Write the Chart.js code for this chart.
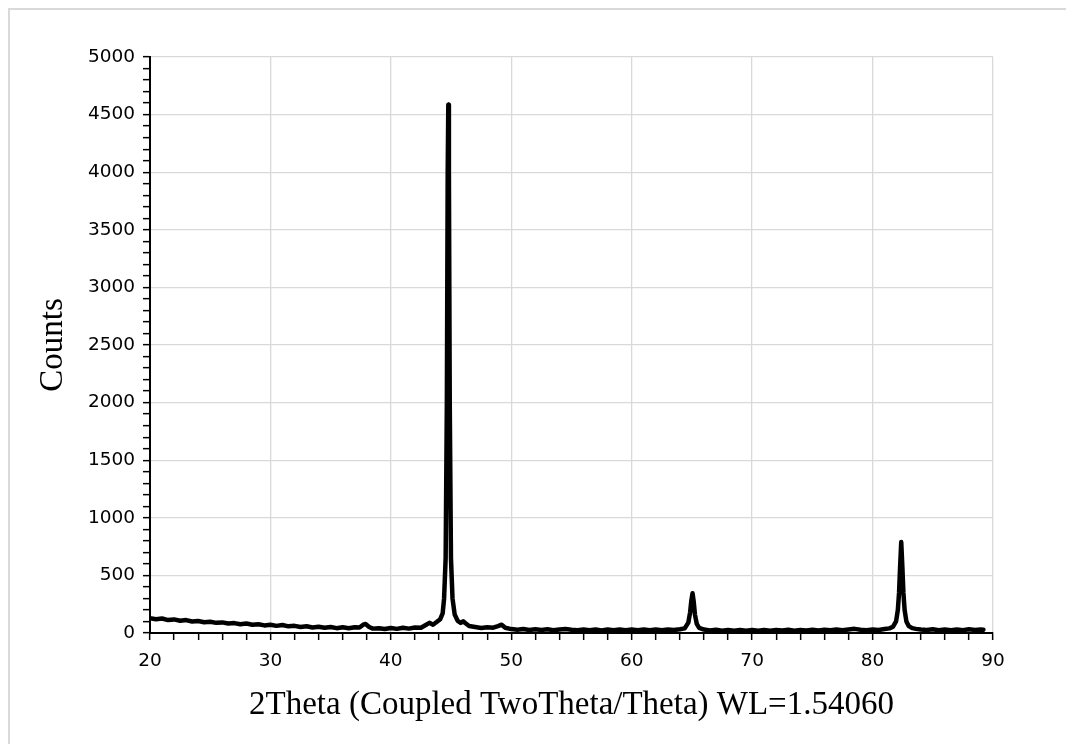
<!DOCTYPE html>
<html>
<head>
<meta charset="utf-8">
<script src="https://cdn.jsdelivr.net/npm/chart.js@4/dist/chart.umd.min.js"></script>
<style>
    html, body { margin: 0; padding: 0; background: #fff; overflow: hidden; }
    #marco { position: absolute; left: 8px; top: 8px; width: 1100px; height: 800px;
             border: 2px solid #d9d9d9; }
    #grafico { position: absolute; left: 0; top: 0; }
</style>
</head>
<body>
<div id="marco"></div>
<canvas id="grafico" width="1066" height="744"></canvas>
<script>
// difratograma (2theta em graus, contagens)
const doisTheta = [
    20.0, 20.5, 21.0, 21.5, 22.0, 22.5, 23.0, 23.5, 24.0, 24.5,
    25.0, 25.5, 26.0, 26.5, 27.0, 27.5, 28.0, 28.5, 29.0, 29.5,
    30.0, 30.5, 31.0, 31.5, 32.0, 32.5, 33.0, 33.5, 34.0, 34.5,
    35.0, 35.5, 36.0, 36.5, 37.0, 37.4, 37.7, 37.9, 38.2, 38.5,
    39.0, 39.5, 40.0, 40.5, 41.0, 41.5, 42.0, 42.5, 42.9, 43.2,
    43.5, 43.8, 44.1, 44.3, 44.42, 44.55, 44.65, 44.72, 44.77, 44.82,
    44.89, 44.99, 45.12, 45.3, 45.55, 45.8,
    46.0, 46.2, 46.5, 47.0, 47.5, 48.0, 48.5, 48.9, 49.2, 49.5,
    50.0, 50.5, 51.0, 51.5, 52.0, 52.5, 53.0, 53.5, 54.0, 54.5,
    55.0, 55.5, 56.0, 56.5, 57.0, 57.5, 58.0, 58.5, 59.0, 59.5,
    60.0, 60.5, 61.0, 61.5, 62.0, 62.5, 63.0, 63.5, 64.0, 64.4,
    64.7, 64.85, 64.95, 65.05, 65.15, 65.25, 65.4, 65.6, 66.0, 66.5,
    67.0, 67.5, 68.0, 68.5, 69.0, 69.5, 70.0, 70.5, 71.0, 71.5,
    72.0, 72.5, 73.0, 73.5, 74.0, 74.5, 75.0, 75.5, 76.0, 76.5,
    77.0, 77.5, 78.0, 78.5, 79.0, 79.5, 80.0, 80.5, 81.0, 81.4,
    81.7, 81.95, 82.1, 82.2, 82.28, 82.38, 82.48, 82.56, 82.66, 82.81,
    83.0, 83.3, 83.6, 84.0, 84.5, 85.0, 85.5, 86.0, 86.5, 87.0,
    87.5, 88.0, 88.5, 89.0, 89.2
];
const contagens = [
    128, 120, 126, 112, 118, 106, 112, 100, 104, 94,
    98, 88, 92, 82, 86, 76, 82, 72, 76, 66,
    72, 62, 70, 58, 62, 52, 58, 48, 54, 46,
    52, 42, 50, 42, 50, 48, 72, 78, 52, 38,
    42, 34, 44, 36, 46, 38, 48, 46, 70, 88,
    72, 95, 120, 170, 300, 650, 2000, 4000, 4585, 4000,
    2000, 650, 300, 160, 105, 88,
    102, 84, 60, 52, 44, 50, 46, 60, 72, 46,
    34, 28, 34, 26, 32, 26, 32, 24, 30, 34,
    28, 24, 30, 24, 30, 22, 30, 24, 30, 24,
    30, 24, 30, 24, 30, 24, 30, 26, 32, 40,
    90, 180, 280, 345, 270, 160, 80, 45, 30, 22,
    28, 20, 26, 20, 26, 20, 26, 20, 26, 20,
    26, 22, 28, 20, 26, 22, 28, 22, 28, 24,
    30, 24, 30, 36, 28, 24, 30, 26, 34, 40,
    55, 100, 200, 350, 560, 790, 560, 350, 200, 100,
    60, 42, 36, 30, 26, 32, 24, 30, 24, 30,
    24, 32, 26, 30, 28
];
const ticksX = [20, 30, 40, 50, 60, 70, 80, 90];
const ticksY = [0, 500, 1000, 1500, 2000, 2500, 3000, 3500, 4000, 4500, 5000];

const pontos = doisTheta.map((t, i) => ({ x: t, y: contagens[i] }));

const cinza = "#d9d9d9";
const fonteTicks = { family: "'DejaVu Sans', sans-serif", size: 18.5 };
const fonteTitulo = { family: "'Liberation Serif', 'Times New Roman', serif", size: 33 };

new Chart(document.getElementById("grafico"), {
    type: "line",
    data: {
        datasets: [{
            data: pontos,
            borderColor: "#000",
            borderWidth: 4.5,
            borderJoinStyle: "round",
            borderCapStyle: "round",
            pointRadius: 0,
            tension: 0,
            fill: false
        }]
    },
    options: {
        responsive: false,
        animation: false,
        devicePixelRatio: 1,
        layout: { padding: { left: 0, top: 57, right: 73, bottom: 0 } },
        plugins: { legend: { display: false }, tooltip: { enabled: false } },
        scales: {
            x: {
                type: "linear",
                min: 20, max: 90,
                afterFit: s => { s.height = 111; },
                ticks: {
                    stepSize: 2, autoSkip: false, maxRotation: 0, padding: 10,
                    color: "#000", font: fonteTicks,
                    callback: v => ticksX.includes(v) ? String(v) : ""
                },
                grid: {
                    color: c => (ticksX.includes(c.tick.value) && c.tick.value !== 20) ? cinza : "rgba(0,0,0,0)",
                    lineWidth: 1.3,
                    tickColor: "#000", tickWidth: 1.5, tickLength: 7
                },
                border: { color: "#000", width: 2 },
                title: {
                    display: true, text: "2Theta (Coupled TwoTheta/Theta) WL=1.54060",
                    color: "#000", font: fonteTitulo, padding: { top: 0, bottom: 19 }
                }
            },
            y: {
                min: 0, max: 5000,
                afterFit: s => { s.width = 150; },
                ticks: {
                    stepSize: 100, autoSkip: false, padding: 8,
                    color: "#000", font: fonteTicks,
                    callback: v => ticksY.includes(v) ? String(v) : ""
                },
                grid: {
                    color: c => (ticksY.includes(c.tick.value) && c.tick.value !== 0) ? cinza : "rgba(0,0,0,0)",
                    lineWidth: 1.3,
                    tickColor: "#000", tickWidth: 1.5, tickLength: 7
                },
                border: { color: "#000", width: 2 },
                title: {
                    display: true, text: "Counts",
                    color: "#000", font: fonteTitulo, padding: { top: 34, bottom: 0 }
                }
            }
        }
    }
});
</script>
</body>
</html>
